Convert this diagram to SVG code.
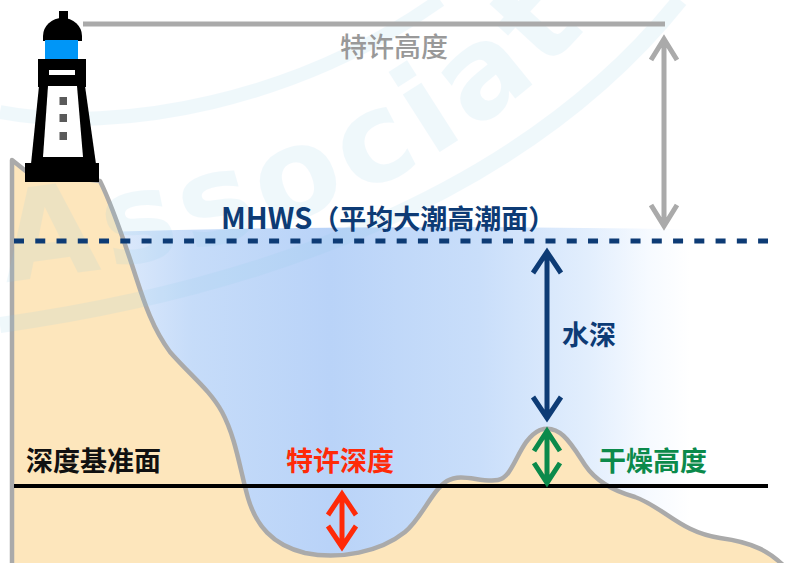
<svg xmlns="http://www.w3.org/2000/svg" width="794" height="563" viewBox="0 0 794 563">
  <style>
    .lbl { font-family: 'Noto Sans CJK SC', 'Noto Sans', sans-serif; font-size: 27px; font-weight: 700; }
    .arrow { fill: none; stroke-width: 5; stroke-linecap: butt; stroke-linejoin: miter; }
    .mark { fill: #8ccbe8; opacity: 0.13; }
  </style>
  <defs>
    <linearGradient id="sea" gradientUnits="userSpaceOnUse" x1="120" y1="0" x2="720" y2="0">
      <stop offset="0" stop-color="#dce9fb"/>
      <stop offset="0.12" stop-color="#c6dcf9"/>
      <stop offset="0.35" stop-color="#b9d3f8"/>
      <stop offset="0.6" stop-color="#c9defa"/>
      <stop offset="0.78" stop-color="#e2eefd"/>
      <stop offset="0.88" stop-color="#f6faff"/>
      <stop offset="0.95" stop-color="#ffffff"/>
    </linearGradient>
    <path id="markPath" d="M0,282 C210,262 460,195 600,10"/>
  </defs>

  <rect width="794" height="563" fill="#ffffff"/>

  <!-- sea body -->
  <path id="sea-body" d="M100,232 Q450,222 794,232 V563 H100 Z" fill="url(#sea)"/>

  <!-- seabed / cliff -->
  <g id="terrain">
    <path d="M12,575 V160 L27,172 L100,181
             C112,205 122,235 132,265
             C142,295 150,325 170,352
             C190,375 210,390 222,412
             C236,438 240,470 248,498
             C256,525 272,545 305,553
             C340,560 380,552 405,532
             C422,518 432,490 447,481
             C462,472 480,483 498,480
             C515,477 518,440 540,430
             C560,423 572,445 585,465
             C595,480 610,490 635,497
             C665,508 680,532 720,538
             C750,542 772,550 792,575 Z"
          fill="#fde6bc" stroke="#aaaaaa" stroke-width="4.5" stroke-linejoin="round"/>
  </g>

  <!-- faint background watermark -->
  <g id="watermark" class="mark">
    <path d="M0,112 C120,135 300,100 440,0" fill="none" stroke="#8ccbe8" stroke-width="14"/>
    <path d="M0,325 C250,290 520,200 680,0" fill="none" stroke="#8ccbe8" stroke-width="16"/>
    <text font-family="'DejaVu Sans', sans-serif" font-weight="700" font-size="125" letter-spacing="8">
      <textPath href="#markPath" startOffset="6">Associat</textPath>
    </text>
  </g>

  <!-- reference levels -->
  <g id="levels">
    <line x1="14" y1="241" x2="768" y2="241" stroke="#0d3b75" stroke-width="5" stroke-dasharray="10 11.26"/>
    <line x1="14" y1="486" x2="768" y2="486" stroke="#000000" stroke-width="4"/>
    <line x1="83" y1="24" x2="665" y2="24" stroke="#aaaaaa" stroke-width="5"/>
  </g>

  <!-- lighthouse -->
  <g id="lighthouse">
    <rect x="59" y="11" width="9" height="9" fill="#000"/>
    <path d="M43,41 V36 A19.5,18 0 0 1 82,36 V41 Z" fill="#000"/>
    <rect x="45" y="40" width="33" height="22" fill="#0096f7"/>
    <rect x="38" y="59" width="48" height="28" fill="#000"/>
    <rect x="49" y="70" width="26" height="5" fill="#fff"/>
    <polygon points="39,86 85,86 96,164 31,164" fill="#000"/>
    <polygon points="48,86 77,86 83,157 43,157" fill="#fff"/>
    <rect x="59.5" y="97" width="7.5" height="8" fill="#5a5a5a"/>
    <rect x="59.5" y="114" width="7.5" height="8" fill="#5a5a5a"/>
    <rect x="59.5" y="132" width="7.5" height="8" fill="#5a5a5a"/>
    <rect x="25" y="163" width="74" height="19" fill="#000"/>
  </g>

  <!-- dimension arrows -->
  <g id="connectors">
    <path class="arrow" stroke="#aaaaaa" d="M664,40 V226 M651,60 L664,39 L677,60 M651,205 L664,226 L677,205"/>
    <path class="arrow" stroke="#0d3b75" d="M547,253 V417 M533,273 L547,252 L561,273 M533,397 L547,418 L561,397"/>
    <path class="arrow" stroke="#0b8a4b" d="M547,432 V482 M534,451 L547,431 L560,451 M534,463 L547,483 L560,463"/>
    <path class="arrow" stroke="#ff2a08" d="M342,495 V546 M328,515 L342,494 L356,515 M328,526 L342,547 L356,526"/>
  </g>

  <!-- labels -->
  <g id="label-air-draft"><text class="lbl" x="340" y="57" fill="#999999" style="font-weight:500">特许高度</text></g>
  <g id="label-mhws"><text class="lbl" x="221" y="229" fill="#0d3b75"><tspan font-size="29">MHWS</tspan>（平均大潮高潮面）</text></g>
  <g id="label-water-depth"><text class="lbl" x="562" y="345" fill="#0d3b75">水深</text></g>
  <g id="label-chart-datum"><text class="lbl" x="26" y="471" fill="#111111">深度基准面</text></g>
  <g id="label-dredged-depth"><text class="lbl" x="286" y="471" fill="#ff2a08">特许深度</text></g>
  <g id="label-drying-height"><text class="lbl" x="599" y="471" fill="#0b8a4b">干燥高度</text></g>
</svg>
